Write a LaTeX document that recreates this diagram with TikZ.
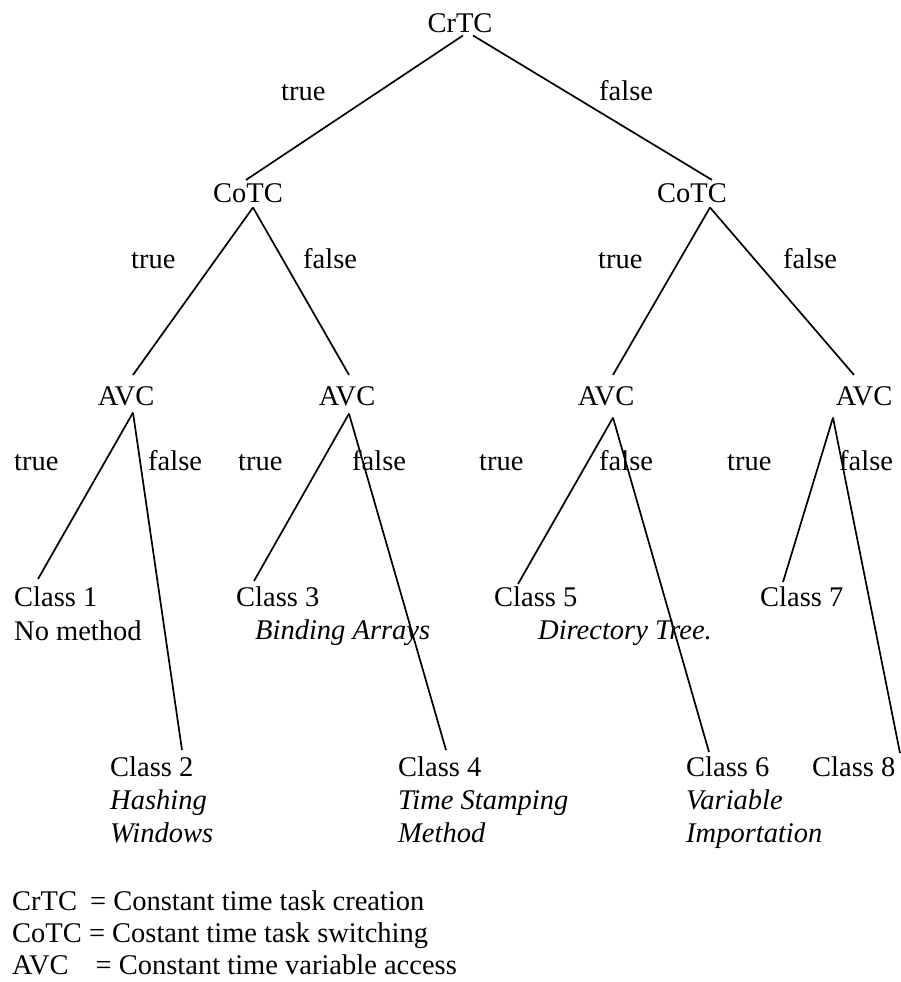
\documentclass[tikz,border=0pt]{standalone}
\usepackage{fontspec}
\setmainfont{Liberation Serif}
\usetikzlibrary{positioning,calc}
\tikzstyle{dec} = [anchor=base,inner sep=0]
\tikzstyle{lf} = [anchor=base west,inner sep=0]
\tikzstyle{ds} = [lf,font=\fontsize{28.5}{33}\selectfont\itshape]
\tikzstyle{br} = [line width=1.7pt]

\begin{document}
\begin{tikzpicture}[
      x=1pt,y=-1pt,
      font=\fontsize{28.5}{33}\selectfont]

     \useasboundingbox (0,0) rectangle (901,982);

     % decisions
     \node[dec] (CrTC) at (460,33)  {CrTC};
     \node[dec] (CoTL) at (248,202) {CoTC};
     \node[dec] (CoTR) at (692,202) {CoTC};
     \node[dec] (AVC1) at (126,405) {AVC};
     \node[dec] (AVC2) at (347,405) {AVC};
     \node[dec] (AVC3) at (606,405) {AVC};
     \node[dec] (AVC4) at (864,405) {AVC};

     % classes
     \node[lf] (C1) at (14,606)  {Class 1};
     \node[lf] (C3) at (236,606) {Class 3};
     \node[lf] (C5) at (494,606) {Class 5};
     \node[lf] (C7) at (760,606) {Class 7};
     \node[lf] (C2) at (110,776) {Class 2};
     \node[lf] (C4) at (398,776) {Class 4};
     \node[lf] (C6) at (686,776) {Class 6};
     \node[lf] (C8) at (812,776) {Class 8};

     \node[lf] (D1) at ([yshift=-34pt]C1.base west) {No method};
     \node[ds] (D3) at (255,639) {Binding Arrays};
     \node[ds] (D5) at (538,639) {Directory Tree.};
     \node[ds] (D2a) at ([yshift=-33pt]C2.base west)  {Hashing};
     \node[ds] (D2b) at ([yshift=-33pt]D2a.base west) {Windows};
     \node[ds] (D4a) at ([yshift=-33pt]C4.base west)  {Time Stamping};
     \node[ds] (D4b) at ([yshift=-33pt]D4a.base west) {Method};
     \node[ds] (D6a) at ([yshift=-33pt]C6.base west)  {Variable};
     \node[ds] (D6b) at ([yshift=-33pt]D6a.base west) {Importation};

     % branch labels
     \node[lf] (t0) at (281,100) {true};
     \node[lf] (f0) at (599,100) {false};
     \node[lf] (t1) at (131,268) {true};
     \node[lf] (f1) at (303,268) {false};
     \node[lf] (t2) at (598,268) {true};
     \node[lf] (f2) at (783,268) {false};
     \foreach \tx/\fx [count=\i] in {14/148,238/352,479/599,727/839} {
       \node[lf] (t\i a) at (\tx,470) {true};
       \node[lf] (f\i a) at (\fx,470) {false};
     }

     \path[br]
       ([shift={(3,2)}]CrTC.south)  edge ([shift={(-2,-3)}]CoTL.north)
       ([shift={(13,2)}]CrTC.south) edge ([shift={(20,-3)}]CoTR.north)
       ([shift={(5,5)}]CoTL.south)  edge ([shift={(7,-11)}]AVC1.north)
                                    edge ([shift={(2,-11)}]AVC2.north)
       ([shift={(18,5)}]CoTR.south) edge ([shift={(7,-11)}]AVC3.north)
                                    edge ([shift={(-10,-11)}]AVC4.north)
       ([shift={(7,7)}]AVC1.south)  edge ([shift={(24,-7)}]C1.north west)
                                    edge ([shift={(72,-6)}]C2.north west)
       ([shift={(2,8)}]AVC2.south)  edge ([shift={(18,-5)}]C3.north west)
                                    edge ([shift={(48,-6)}]C4.north west)
       ([shift={(7,12)}]AVC3.south) edge ([shift={(24,-2)}]C5.north west)
                                    edge ([shift={(23,-4)}]C6.north west)
       ([shift={(-31,12)}]AVC4.south) edge ([shift={(23,-4)}]C7.north west)
                                      edge ([shift={(88,-3)}]C8.north west)
       ;

     % legend
     \node[lf] (L1) at (12,910) {CrTC\hspace{13pt}= Constant time task creation};
     \node[lf] (L2) at (12,942) {CoTC = Costant time task switching};
     \node[lf] (L3) at (12,974) {AVC\hspace{27pt}= Constant time variable access};

  \end{tikzpicture}
\end{document}
